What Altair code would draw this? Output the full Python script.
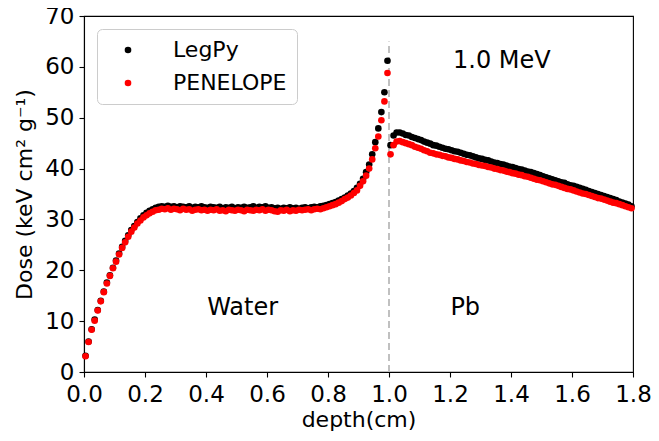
import altair as alt
import pandas as pd

# depth bin centres (cm)
depth = [
    0.005, 0.015, 0.025, 0.035, 0.045, 0.055, 0.065, 0.075, 0.085, 0.095,
    0.105, 0.115, 0.125, 0.135, 0.145, 0.155, 0.165, 0.175, 0.185, 0.195,
    0.205, 0.215, 0.225, 0.235, 0.245, 0.255, 0.265, 0.275, 0.285, 0.295,
    0.305, 0.315, 0.325, 0.335, 0.345, 0.355, 0.365, 0.375, 0.385, 0.395,
    0.405, 0.415, 0.425, 0.435, 0.445, 0.455, 0.465, 0.475, 0.485, 0.495,
    0.505, 0.515, 0.525, 0.535, 0.545, 0.555, 0.565, 0.575, 0.585, 0.595,
    0.605, 0.615, 0.625, 0.635, 0.645, 0.655, 0.665, 0.675, 0.685, 0.695,
    0.705, 0.715, 0.725, 0.735, 0.745, 0.755, 0.765, 0.775, 0.785, 0.795,
    0.805, 0.815, 0.825, 0.835, 0.845, 0.855, 0.865, 0.875, 0.885, 0.895,
    0.905, 0.915, 0.925, 0.935, 0.945, 0.955, 0.965, 0.975, 0.985, 0.995,
    1.005, 1.015, 1.025, 1.035, 1.045, 1.055, 1.065, 1.075, 1.085, 1.095,
    1.105, 1.115, 1.125, 1.135, 1.145, 1.155, 1.165, 1.175, 1.185, 1.195,
    1.205, 1.215, 1.225, 1.235, 1.245, 1.255, 1.265, 1.275, 1.285, 1.295,
    1.305, 1.315, 1.325, 1.335, 1.345, 1.355, 1.365, 1.375, 1.385, 1.395,
    1.405, 1.415, 1.425, 1.435, 1.445, 1.455, 1.465, 1.475, 1.485, 1.495,
    1.505, 1.515, 1.525, 1.535, 1.545, 1.555, 1.565, 1.575, 1.585, 1.595,
    1.605, 1.615, 1.625, 1.635, 1.645, 1.655, 1.665, 1.675, 1.685, 1.695,
    1.705, 1.715, 1.725, 1.735, 1.745, 1.755, 1.765, 1.775, 1.785, 1.795,
]

# LegPy dose (keV cm2 g-1)
legpy = [
    3.2, 6.0, 8.4, 10.3, 12.2, 14.0, 15.8, 17.6, 19.0, 20.5,
    21.9, 23.3, 24.6, 25.8, 26.9, 27.9, 28.7, 29.5, 30.2, 30.8,
    31.3, 31.7, 32.0, 32.3, 32.5, 32.6, 32.5, 32.7, 32.5, 32.6,
    32.4, 32.6, 32.5, 32.4, 32.6, 32.3, 32.5, 32.4, 32.6, 32.4,
    32.3, 32.5, 32.4, 32.3, 32.5, 32.2, 32.4, 32.3, 32.5, 32.2,
    32.4, 32.3, 32.5, 32.3, 32.4, 32.6, 32.3, 32.5, 32.4, 32.6,
    32.3, 32.4, 32.2, 32.3, 32.1, 32.3, 32.2, 32.4, 32.2, 32.3,
    32.1, 32.3, 32.4, 32.2, 32.4, 32.5, 32.4, 32.6, 32.7, 32.8,
    33.0, 33.2, 33.4, 33.7, 34.0, 34.3, 34.7, 35.1, 35.6, 36.2,
    37.0, 38.0, 39.3, 40.8, 42.8, 45.2, 47.9, 51.1, 55.0, 61.2,
    44.6, 46.5, 47.1, 47.1, 46.9, 46.6, 46.5, 46.2, 46.0, 45.8,
    45.6, 45.3, 45.1, 44.9, 44.6, 44.5, 44.3, 44.1, 43.9, 43.8,
    43.6, 43.4, 43.3, 43.1, 42.9, 42.7, 42.6, 42.4, 42.2, 42.0,
    41.9, 41.7, 41.6, 41.4, 41.2, 41.1, 40.9, 40.8, 40.6, 40.4,
    40.3, 40.1, 39.9, 39.8, 39.6, 39.4, 39.3, 39.1, 38.9, 38.7,
    38.5, 38.3, 38.1, 37.9, 37.7, 37.5, 37.3, 37.2, 36.9, 36.7,
    36.6, 36.4, 36.2, 36.0, 35.8, 35.6, 35.4, 35.2, 35.0, 34.8,
    34.6, 34.4, 34.2, 34.0, 33.8, 33.5, 33.3, 33.1, 32.9, 32.6,
]

# PENELOPE dose (keV cm2 g-1)
penelope = [
    3.1, 5.9, 8.3, 10.1, 12.1, 13.9, 15.7, 17.4, 18.9, 20.4,
    21.7, 23.1, 24.4, 25.5, 26.6, 27.6, 28.4, 29.2, 29.8, 30.4,
    30.8, 31.2, 31.5, 31.8, 31.9, 32.1, 32.0, 32.2, 31.9, 32.1,
    32.0, 31.8, 32.1, 31.9, 32.0, 31.7, 31.9, 32.0, 31.8, 31.9,
    31.7, 31.9, 31.8, 32.0, 31.7, 31.8, 31.6, 31.9, 31.8, 31.7,
    31.9, 31.8, 31.6, 31.9, 31.8, 31.7, 31.9, 31.8, 32.0, 31.7,
    31.9, 31.8, 31.6, 31.5, 31.8, 31.7, 31.9, 31.6, 31.8, 31.7,
    31.9, 31.8, 31.9, 32.0, 31.8, 32.0, 32.1, 32.0, 32.2, 32.4,
    32.6, 32.8, 33.0, 33.3, 33.6, 34.0, 34.3, 34.7, 35.2, 35.7,
    36.6, 37.5, 38.6, 40.0, 41.8, 44.0, 46.3, 49.5, 53.2, 58.8,
    42.8, 44.6, 45.3, 45.4, 45.2, 45.0, 44.8, 44.6, 44.3, 44.1,
    43.9, 43.6, 43.4, 43.1, 43.0, 42.8, 42.7, 42.5, 42.4, 42.2,
    42.1, 41.9, 41.8, 41.6, 41.5, 41.3, 41.2, 41.0, 40.9, 40.7,
    40.6, 40.5, 40.3, 40.2, 40.0, 39.9, 39.7, 39.6, 39.4, 39.3,
    39.1, 39.0, 38.8, 38.7, 38.5, 38.4, 38.2, 38.0, 37.8, 37.7,
    37.5, 37.3, 37.1, 36.9, 36.8, 36.6, 36.4, 36.2, 36.0, 35.9,
    35.7, 35.5, 35.3, 35.1, 35.0, 34.8, 34.6, 34.4, 34.2, 34.1,
    33.9, 33.7, 33.5, 33.3, 33.2, 33.0, 32.8, 32.6, 32.4, 32.2,
]

series_names = ["LegPy", "PENELOPE"]
series_colors = ["#000000", "#ff0000"]

x_ticks = [0.0, 0.2, 0.4, 0.6, 0.8, 1.0, 1.2, 1.4, 1.6, 1.8]
y_ticks = [0, 10, 20, 30, 40, 50, 60, 70]

# annotations
ann_text = ["Water", "Pb", "1.0 MeV"]
ann_x = [0.52, 1.25, 1.37]
ann_y = [12.6, 12.6, 61.2]

interface_depth = 1.0
interface_top = 65

rows = []
for name, vals in zip(series_names, [legpy, penelope]):
    for d, v in zip(depth, vals):
        rows.append({"depth": d, "dose": v, "code": name})
df = pd.DataFrame(rows)

FONT = "DejaVu Sans"

xscale = alt.Scale(domain=[0, 1.8], nice=False)
yscale = alt.Scale(domain=[0, 70], nice=False)

points = alt.Chart(df).mark_circle(size=44, opacity=1).encode(
    x=alt.X("depth:Q", scale=xscale,
            axis=alt.Axis(title="depth(cm)", values=x_ticks, format=".1f",
                          labelFlush=False, labelOverlap=False,
                          labelPadding=6, titlePadding=3)),
    y=alt.Y("dose:Q", scale=yscale,
            axis=alt.Axis(title="Dose (keV cm²  g⁻¹)", values=y_ticks,
                          labelOverlap=False, labelPadding=5, titlePadding=8)),
    color=alt.Color("code:N",
                    scale=alt.Scale(domain=series_names, range=series_colors),
                    legend=alt.Legend(title=None, orient="none",
                                      legendX=13, legendY=13)),
)

rule = alt.Chart(pd.DataFrame({"x": [interface_depth], "y": [0], "y2": [interface_top]})).mark_rule(
    color="#c0c0c0", strokeWidth=2, strokeDash=[7, 4]
).encode(x=alt.X("x:Q", scale=xscale), y=alt.Y("y:Q", scale=yscale), y2="y2:Q")

ann = alt.Chart(pd.DataFrame({"t": ann_text, "x": ann_x, "y": ann_y})).mark_text(
    font=FONT, fontSize=24, color="#000000", align="center", baseline="middle"
).encode(x=alt.X("x:Q", scale=xscale), y=alt.Y("y:Q", scale=yscale), text="t:N")

chart = alt.layer(rule, points, ann).properties(
    width=549, height=356,
    autosize=alt.AutoSizeParams(type="none"),
    padding={"left": 76, "top": 8, "right": 18, "bottom": 61},
).configure_view(
    stroke="#000000", strokeWidth=1.1
).configure_axis(
    labelFont=FONT, titleFont=FONT, labelFontSize=23, titleFontSize=22,
    labelColor="#000000", titleColor="#000000", titleFontWeight="normal",
    domainColor="#000000", tickColor="#000000", tickSize=5, tickWidth=1.1,
    domainWidth=1.1, grid=False,
).configure_legend(
    labelFont=FONT, labelFontSize=22, labelColor="#000000",
    symbolType="circle", symbolSize=44, symbolStrokeWidth=0,
    strokeColor="#cccccc", fillColor="rgba(255,255,255,0.8)", cornerRadius=5,
    padding=10, rowPadding=11, symbolOffset=10, labelOffset=34,
)

chart.save("out.html", embed_options={"renderer": "svg", "actions": False})
